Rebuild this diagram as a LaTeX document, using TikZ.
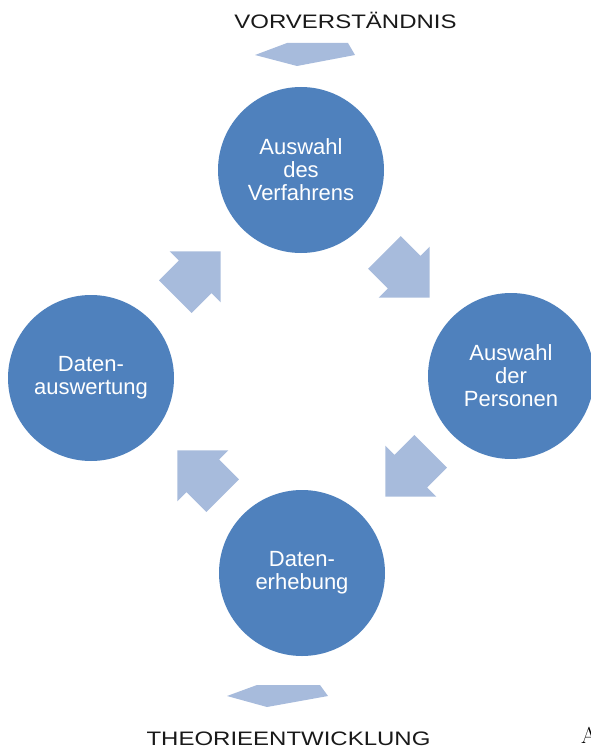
\documentclass[tikz,border=0pt]{standalone}
\usepackage{fontspec}
\newfontfamily\arialfont{Liberation Sans}

\definecolor{circleblue}{RGB}{79,129,189}
\definecolor{arrowblue}{RGB}{167,187,220}

\begin{document}
\begin{tikzpicture}[
            x = 1pt, y = -1pt, % pixel coordinates, y going down
            every node/.style = {inner sep = 0pt, outer sep = 0pt},
            turnarrow/.pic = { % block arrow pointing along +x, centred
                \fill[arrowblue] (-32,-23) -- (-4,-23) -- (-4,-36) -- (32,0)
                    -- (-4,36) -- (-4,23) -- (-32,23) -- cycle;
            }
        ]

        \tikzstyle{phase}=[
            circle,
            fill = circleblue,
            minimum size = 166pt,
            text = white,
            align = center,
            font = \arialfont\fontsize{22}{23}\selectfont
        ]
        \tikzstyle{caption}=[
            font = \arialfont\fontsize{19.5}{22}\selectfont,
            text = black!90,
            xscale = 1.23,
            anchor = base
        ]

        \useasboundingbox (0,0) rectangle (590,749);

        % the four phases
        \node[phase] (verfahren) at (301,170) {Auswahl\\des\\Verfahrens};
        \node[phase] (personen) at (511,376) {Auswahl\\der\\Personen};
        \node[phase] (erhebung) at (302,573) {Daten-\\erhebung};
        \node[phase] (auswertung) at (91,378) {Daten-\\auswertung};

        % block arrows between them
        \pic[rotate = -45] (turn1) at (407,275) {turnarrow};
        \pic[rotate = -135] (turn2) at (408,474) {turnarrow};
        \pic[rotate = 135] (turn3) at (200,473) {turnarrow};
        \pic[rotate = 45] (turn4) at (198,274) {turnarrow};

        % in and out
        \node[caption] (vorv) at (345.5,29) {VORVERSTÄNDNIS};
        \fill[arrowblue] (287,43) -- (348,43) -- (355,55) -- (297,66)
            -- (255,55) -- cycle;
        \fill[arrowblue] (257,685) -- (320,685) -- (328,696) -- (267,707)
            -- (227,696) -- cycle;
        \node[caption] (theorie) at (288.5,745) {THEORIEENTWICKLUNG};

        \node[anchor = base west, font = \fontsize{23}{23}\selectfont] (rest) at (581,743) {A};
    \end{tikzpicture}
\end{document}
